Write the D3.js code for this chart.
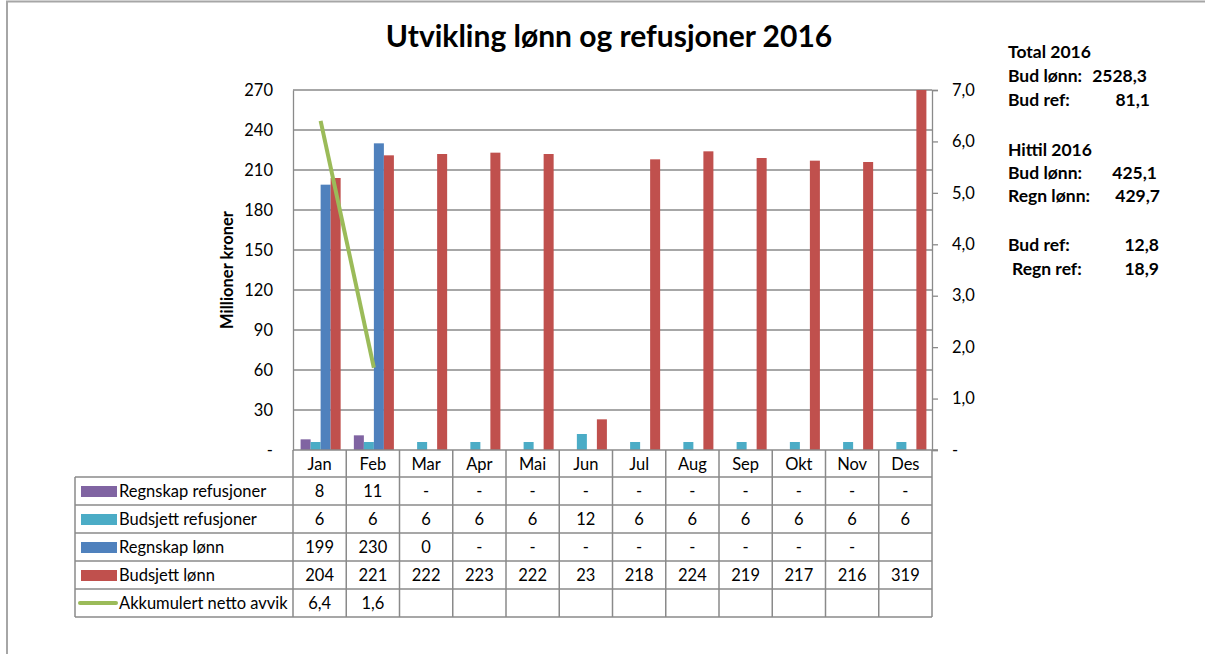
<!DOCTYPE html>
<html><head><meta charset="utf-8">
<script src="https://cdn.jsdelivr.net/npm/d3@7"></script>
<style>
html,body{margin:0;padding:0;background:#fff;}
svg{display:block;font-family:Lato,"Open Sans",sans-serif;}
</style></head>
<body><svg id="c" width="1205" height="654"></svg>
<script>
// ---- data ----
const months = ["Jan","Feb","Mar","Apr","Mai","Jun","Jul","Aug","Sep","Okt","Nov","Des"];
// null = shown as "-", "" = blank cell
const regnskapRefusjoner = [8, 11, null, null, null, null, null, null, null, null, null, null];
const budsjettRefusjoner = [6, 6, 6, 6, 6, 12, 6, 6, 6, 6, 6, 6];
const regnskapLonn = [199, 230, 0, null, null, null, null, null, null, null, null, ""];
const budsjettLonn = [204, 221, 222, 223, 222, 23, 218, 224, 219, 217, 216, 319];
const akkumulertNettoAvvik = [6.4, 1.6, "", "", "", "", "", "", "", "", "", ""];
const leftTicks = [0, 30, 60, 90, 120, 150, 180, 210, 240, 270];
const rightTicks = [0, 1, 2, 3, 4, 5, 6, 7];
const seriesNames = ["Regnskap refusjoner","Budsjett refusjoner","Regnskap lønn","Budsjett lønn","Akkumulert netto avvik"];
const seriesColors = ["#8064A2","#4BACC6","#4F81BD","#C0504D","#9BBB59"];
const titleText = "Utvikling lønn og refusjoner 2016";
const yTitle = "Millioner kroner";
const notes = [
  ["Total 2016", ""],
  ["Bud lønn:", "2528,3"],
  ["Bud ref:", "81,1"],
  ["Hittil 2016", ""],
  ["Bud lønn:", "425,1"],
  ["Regn lønn:", "429,7"],
  ["Bud ref:", "12,8"],
  ["Regn ref:", "18,9"]
];

// ---- layout ----
const svg = d3.select("#c");
const X0 = 293, X1 = 932, YT = 90, YB = 450;
const gridCol = "#8a8a8a";
const FS = 16.5;

// outer border
svg.append("rect").attr("x",7).attr("y",1.5).attr("width",1400).attr("height",800)
  .attr("fill","none").attr("stroke","#a6a6a6").attr("stroke-width",2);

const x = d3.scaleBand().domain(months).range([X0, X1]).padding(0);
const xi = d3.scaleBand().domain(d3.range(4)).range([0, x.bandwidth()]).paddingInner(0).paddingOuter(0.66);
const yL = d3.scaleLinear().domain([0, 270]).range([YB, YT]);
const yR = d3.scaleLinear().domain([0, 7]).range([YB, YT]);

// title
svg.append("text").attr("x", 609).attr("y", 47).attr("text-anchor","middle")
  .attr("font-size", 30).attr("font-weight","bold").attr("fill","#000").text(titleText);

// gridlines
svg.append("g").selectAll("line").data(leftTicks.filter(d=>d>0)).join("line")
  .attr("x1", X0).attr("x2", X1).attr("y1", d=>yL(d)).attr("y2", d=>yL(d))
  .attr("stroke", gridCol).attr("stroke-width", 1.3);

// left axis
const gL = svg.append("g").attr("transform", `translate(${X0},0)`)
  .call(d3.axisLeft(yL).tickValues(leftTicks).tickSize(0).tickPadding(20)
    .tickFormat(d => d === 0 ? "-" : d));
gL.select(".domain").attr("stroke", gridCol).attr("stroke-width",1.3);
gL.selectAll("text").attr("font-size", FS).attr("font-family","Lato").attr("fill","#000");

// right axis
const gR = svg.append("g").attr("transform", `translate(${X1},0)`)
  .call(d3.axisRight(yR).tickValues(rightTicks).tickSize(6).tickPadding(14)
    .tickFormat(d => d === 0 ? "-" : d3.format(".1f")(d).replace(".", ",")));
gR.select(".domain").attr("stroke", gridCol).attr("stroke-width",1.3);
gR.selectAll("line").attr("stroke", gridCol).attr("stroke-width",1.3);
gR.selectAll("text").attr("font-size", FS).attr("font-family","Lato").attr("fill","#000");

// y title
svg.append("text").attr("transform", `translate(233,${(YT+YB)/2}) rotate(-90)`)
  .attr("text-anchor","middle").attr("font-size",16.5).attr("font-weight","bold").text(yTitle);

// bars
svg.append("defs").append("clipPath").attr("id","pc").append("rect")
  .attr("x", X0).attr("y", YT).attr("width", X1-X0).attr("height", YB-YT);
const barSeries = [regnskapRefusjoner, budsjettRefusjoner, regnskapLonn, budsjettLonn];
const bars = svg.append("g").attr("clip-path","url(#pc)");
barSeries.forEach((vals, si) => {
  bars.append("g").selectAll("rect")
    .data(months.map((m,i)=>({m, v: vals[i]})).filter(d => typeof d.v === "number" && d.v > 0))
    .join("rect")
    .attr("x", d => x(d.m) + xi(si) + 1)
    .attr("width", xi.bandwidth())
    .attr("y", d => yL(d.v))
    .attr("height", d => YB - yL(d.v))
    .attr("fill", seriesColors[si]);
});

// line
const lineData = months.map((m,i)=>({m, v: akkumulertNettoAvvik[i]})).filter(d => typeof d.v === "number");
svg.append("path").datum(lineData)
  .attr("d", d3.line().x(d => x(d.m) + x.bandwidth()/2 + 1).y(d => yR(d.v)))
  .attr("fill","none").attr("stroke", seriesColors[4]).attr("stroke-width", 4).attr("stroke-linecap","butt");

// bottom axis line (category axis)
svg.append("line").attr("x1", X0).attr("x2", X1+6).attr("y1", YB).attr("y2", YB)
  .attr("stroke", gridCol).attr("stroke-width",1.3);

// ---- data table ----
const TL = 75, headH = 27, rowH = 28;
const rowTop = i => YB + headH + i*rowH;
const tableSeries = [regnskapRefusjoner, budsjettRefusjoner, regnskapLonn, budsjettLonn, akkumulertNettoAvvik];
const tbl = svg.append("g").attr("stroke", gridCol).attr("stroke-width", 1.5);
months.forEach(m => {
  tbl.append("line").attr("x1", x(m)).attr("x2", x(m)).attr("y1", YB).attr("y2", rowTop(5));
});
tbl.append("line").attr("x1", X1).attr("x2", X1).attr("y1", YB).attr("y2", rowTop(5));
tbl.append("line").attr("x1", TL).attr("x2", TL).attr("y1", rowTop(0)).attr("y2", rowTop(5));
for (let r = 0; r <= 5; r++) {
  tbl.append("line").attr("x1", TL).attr("x2", X1).attr("y1", rowTop(r)).attr("y2", rowTop(r));
}
svg.append("g").selectAll("text").data(months).join("text")
  .attr("x", d => x(d) + x.bandwidth()/2).attr("y", YB + headH/2 + 6)
  .attr("text-anchor","middle").attr("font-size",FS).text(d=>d);
tableSeries.forEach((vals, r) => {
  svg.append("g").selectAll("text").data(months.map((m,i)=>({m, v: vals[i]}))).join("text")
    .attr("x", d => x(d.m) + x.bandwidth()/2).attr("y", rowTop(r) + rowH/2 + 6)
    .attr("text-anchor","middle").attr("font-size",FS)
    .text(d => d.v === null ? "-" : (typeof d.v === "number" ? String(d.v).replace(".", ",") : ""));
  if (r < 4) {
    svg.append("rect").attr("x", 81).attr("y", rowTop(r) + 9).attr("width", 36).attr("height", 11)
      .attr("fill", seriesColors[r]);
  } else {
    svg.append("line").attr("x1", 80).attr("x2", 116).attr("y1", rowTop(r)+rowH/2).attr("y2", rowTop(r)+rowH/2)
      .attr("stroke", seriesColors[r]).attr("stroke-width", 4).attr("stroke-linecap","round");
  }
  svg.append("text").attr("x", 119).attr("y", rowTop(r) + rowH/2 + 6)
    .attr("font-size", FS).text(seriesNames[r]);
});

// ---- side notes ----
const noteY = [58, 82, 106, 156, 179, 202, 251, 275];
const noteLX = [1008, 1008, 1008, 1008, 1008, 1008, 1008, 1012];
const noteVX = [0, 1147, 1150, 0, 1157, 1160, 1159, 1159];
const ng = svg.append("g").attr("font-size", 17.5).attr("font-weight","bold");
notes.forEach((n, i) => {
  ng.append("text").attr("x", noteLX[i]).attr("y", noteY[i]).text(n[0]);
  if (n[1]) ng.append("text").attr("x", noteVX[i]).attr("y", noteY[i]).attr("text-anchor","end").text(n[1]);
});
</script></body></html>
